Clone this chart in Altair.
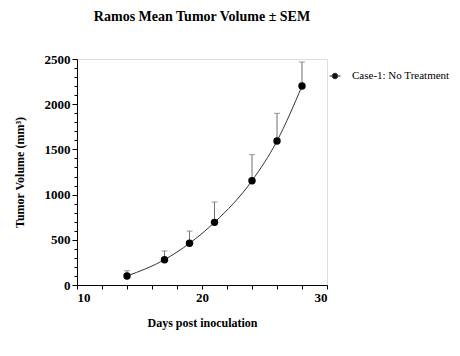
import altair as alt
import pandas as pd

days = [14, 17, 19, 21, 24, 26, 28]
mean_vol = [100, 280, 461, 693, 1154, 1593, 2201]
sem_upper = [158, 376, 597, 918, 1442, 1899, 2467]
series = ["Case-1: No Treatment"] * len(days)

df = pd.DataFrame({"day": days, "mean": mean_vol, "upper": sem_upper, "group": series})

FONT = "Liberation Serif"

x_axis = alt.Axis(title="Days post inoculation", values=list(range(10, 31, 2)),
                  labelExpr="datum.value % 10 === 0 ? datum.label : ''",
                  labelOverlap=False,
                  grid=False, tickSize=4, labelFontWeight="bold", labelFontSize=13,
                  titleFontSize=12, titleFontWeight="bold", titlePadding=13,
                  labelPadding=2, domainColor="black", tickColor="black",
                  labelColor="black", titleColor="black", labelFont=FONT, titleFont=FONT)
x_scale = alt.Scale(domain=[10, 30], nice=False)
y_scale = alt.Scale(domain=[0, 2500], nice=False)
y_axis = alt.Axis(title="Tumor Volume (mm³)", values=list(range(0, 2501, 100)),
                  labelExpr="datum.value % 500 === 0 ? datum.label : ''",
                  labelOverlap=False,
                  format="d", grid=False,
                  tickSize={"condition": {"test": "datum.value % 500 === 0", "value": 5}, "value": 3},
                  labelFontWeight="bold", labelFontSize=13, titleFontSize=12,
                  titleFontWeight="bold", titlePadding=18, labelPadding=2,
                  domainColor="black", tickColor="black", labelColor="black",
                  titleColor="black", labelFont=FONT, titleFont=FONT)

X = alt.X("day:Q", scale=x_scale, axis=x_axis)

base = alt.Chart(df)

err = base.mark_rule(color="#707070", strokeWidth=1).encode(
    x=X, y=alt.Y("mean:Q", scale=y_scale, axis=y_axis), y2="upper:Q")
cap = base.mark_tick(color="#707070", thickness=1, size=6, orient="horizontal").encode(
    x=X, y=alt.Y("upper:Q", scale=y_scale, axis=y_axis))

legend_path = "M-1,0H1M-0.5,0A0.5,0.5,0,1,1,0.5,0A0.5,0.5,0,1,1,-0.5,0Z"
line = base.mark_line(interpolate="monotone", strokeWidth=1).encode(
    x=X, y=alt.Y("mean:Q", scale=y_scale, axis=y_axis),
    color=alt.Color("group:N", scale=alt.Scale(range=["#333333"]),
                    legend=alt.Legend(title=None, orient="none", legendX=252, legendY=11,
                                      symbolType=legend_path, symbolSize=121,
                                      symbolStrokeWidth=1, symbolFillColor="black",
                                      symbolStrokeColor="black", labelOffset=11,
                                      labelFont=FONT, labelFontSize=11, labelColor="black")))
pts = base.mark_circle(size=55, color="black", opacity=1).encode(
    x=X, y=alt.Y("mean:Q", scale=y_scale, axis=y_axis))

chart = alt.layer(err, cap, line, pts).properties(
    width=250, height=226,
    title=alt.TitleParams("Ramos Mean Tumor Volume ± SEM", font=FONT, fontSize=14,
                          fontWeight="bold", color="black", anchor="middle", offset=29),
    autosize=alt.AutoSizeParams(type="none"),
    padding={"left": 69, "top": 51, "right": 125, "bottom": 63},
).configure_view(stroke=None).configure(background="white")

chart.save("out.html", embed_options={"renderer": "svg", "actions": False})
